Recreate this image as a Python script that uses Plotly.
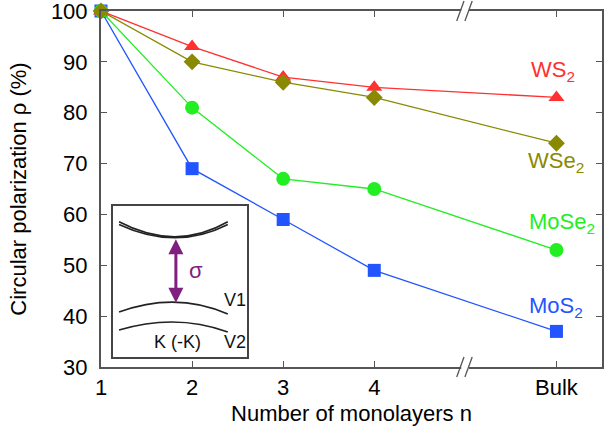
import plotly.graph_objects as go

# ---- data ----
x_pos = [1, 2, 3, 4, 6]
tick_vals = [1, 2, 3, 4, 6]
tick_text = ["1", "2", "3", "4", "Bulk"]
ws2 = [100, 93, 87, 85, 83]
wse2 = [100, 90, 86, 83, 74]
mose2 = [100, 81, 67, 65, 53]
mos2 = [100, 69, 59, 49, 37]

c_ws2 = "#ff3030"
c_wse2 = "#8a8a00"
c_mose2 = "#22ee22"
c_mos2 = "#2255ff"
purple = "#7f1f80"
font = "Liberation Sans, Arial, sans-serif"

fig = go.Figure()

def add(y, color, symbol, size):
    fig.add_trace(go.Scatter(
        x=x_pos, y=y, mode="lines+markers",
        line=dict(color=color, width=1.3),
        marker=dict(color=color, symbol=symbol, size=size, line=dict(width=0)),
        cliponaxis=False, showlegend=False))

add(mos2, c_mos2, "square", 13)
add(mose2, c_mose2, "circle", 14)
add(ws2, c_ws2, "triangle-up", 14)
add(wse2, c_wse2, "diamond", 13)

# series labels
labels = [("WS<sub>2</sub>", 5.96, 88.2, c_ws2),
          ("WSe<sub>2</sub>", 6.0, 70.4, c_wse2),
          ("MoSe<sub>2</sub>", 6.06, 58.4, c_mose2),
          ("MoS<sub>2</sub>", 5.99, 41.8, c_mos2)]
for t, x, y, c in labels:
    fig.add_annotation(x=x, y=y, xref="x", yref="y", text=t, showarrow=False,
                       font=dict(family=font, size=22, color=c))

axcol = "#555555"
fig.update_xaxes(range=[1, 6.5], tickvals=tick_vals, ticktext=tick_text,
                 ticks="inside", ticklen=6, tickcolor=axcol, tickwidth=1,
                 showline=True, linecolor=axcol, linewidth=2, mirror="ticks",
                 showgrid=False, zeroline=False, automargin=False,
                 ticklabeloverflow="allow",
                 tickfont=dict(family=font, size=22, color="black"),
                 title=dict(text="Number of monolayers n", standoff=6,
                            font=dict(family=font, size=22, color="black")))
fig.update_yaxes(range=[30, 100], dtick=10,
                 ticks="inside", ticklen=6, tickcolor=axcol, tickwidth=1,
                 showline=True, linecolor=axcol, linewidth=2, mirror="ticks",
                 showgrid=False, zeroline=False, automargin=False,
                 ticklabelstandoff=7, ticklabeloverflow="allow",
                 tickfont=dict(family=font, size=22, color="black"),
                 title=dict(text="Circular polarization ρ (%)", standoff=18,
                            font=dict(family=font, size=22, color="black")))

# axis break marks
for yb in [0, 1]:
    fig.add_shape(type="rect", xref="x", yref="paper", x0=4.955, x1=5.04,
                  y0=yb - 0.012, y1=yb + 0.012, fillcolor="white",
                  line=dict(width=0), layer="above")
    for xc in [4.945, 5.035]:
        fig.add_shape(type="line", xref="x", yref="paper",
                      x0=xc - 0.04, x1=xc + 0.04, y0=yb - 0.028, y1=yb + 0.028,
                      line=dict(color=axcol, width=1.3), layer="above")

# ---- inset ----
fig.update_layout(
    xaxis2=dict(domain=[0.024, 0.291], range=[0, 1], anchor="y2", showticklabels=False,
                ticks="", showgrid=False, zeroline=False, showline=True,
                linecolor="#444444", linewidth=1.5, mirror=True, automargin=False),
    yaxis2=dict(domain=[0.028, 0.452], range=[0, 1], anchor="x2", showticklabels=False,
                ticks="", showgrid=False, zeroline=False, showline=True,
                linecolor="#444444", linewidth=1.5, mirror=True, automargin=False),
)
fig.add_shape(type="rect", xref="x2 domain", yref="y2 domain", x0=0, x1=1, y0=0, y1=1,
              fillcolor="white", line=dict(width=0), layer="below")
bands = ["M 0.045 0.896 Q 0.47 0.698 0.858 0.896",
         "M 0.045 0.878 Q 0.47 0.702 0.858 0.878",
         "M 0.045 0.298 Q 0.47 0.436 0.858 0.285",
         "M 0.045 0.179 Q 0.47 0.292 0.858 0.166"]
for p in bands:
    fig.add_shape(type="path", xref="x2", yref="y2", path=p,
                  line=dict(color="#222222", width=1.6))
fig.add_annotation(x=0.47, y=0.36, ax=0.47, ay=0.79, xref="x2", yref="y2",
                   axref="x2", ayref="y2", text="", showarrow=True,
                   arrowhead=2, startarrowhead=2, arrowside="end+start",
                   arrowsize=1, arrowwidth=3, arrowcolor=purple)
for t, x, y, c, s in [("σ", 0.62, 0.57, purple, 22), ("V1", 0.91, 0.38, "#111111", 18),
                      ("V2", 0.91, 0.1, "#111111", 18), ("K (-K)", 0.485, 0.1, "#111111", 18)]:
    fig.add_annotation(x=x, y=y, xref="x2", yref="y2", text=t, showarrow=False,
                       font=dict(family=font, size=s, color=c))

fig.update_layout(width=613, height=436, margin=dict(l=101, r=11, t=11, b=69),
                  plot_bgcolor="white", paper_bgcolor="white", showlegend=False)
fig.write_html("out.html", config={"displayModeBar": False},
               post_script="document.body.style.margin='0';document.body.style.padding='0';")
